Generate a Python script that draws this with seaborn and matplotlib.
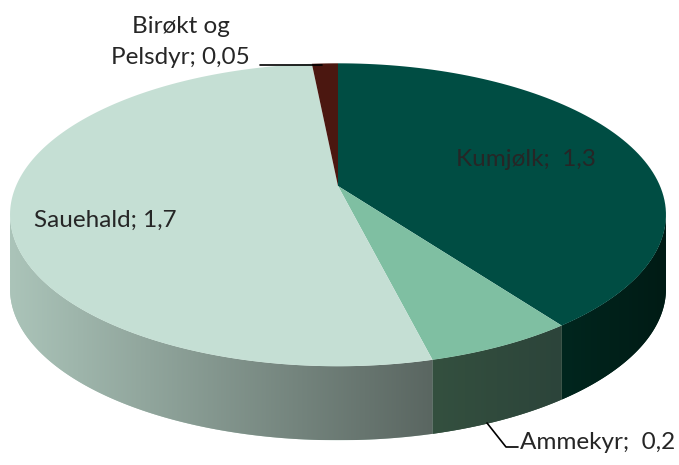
import numpy as np
import matplotlib
matplotlib.use("Agg")
import matplotlib.pyplot as plt
import matplotlib.transforms as mtransforms
from matplotlib.path import Path
from matplotlib.patches import Polygon
from matplotlib.colors import LinearSegmentedColormap
import seaborn as sns

# data
sectors = ["Kumjølk", "Ammekyr", "Sauehald", "Birøkt og\nPelsdyr"]
values = [1.3, 0.2, 1.7, 0.05]
value_labels = ["1,3", "0,2", "1,7", "0,05"]

top_colors = ["#004d43", "#7fbfa2", "#c5dfd4", "#4b1710"]
# side colour of each slice, left -> right
side_colors = [("#00261e", "#001b15"), ("#34503f", "#2c443a"),
               ("#abc4b9", "#5a6661"), ("#3a120e", "#3a120e")]

# pie geometry in output pixels
CX, CY = 338, 186
RX, RY = 322, 146
PERSP = 0.19
DEPTH = 74


class TiltTransform(mtransforms.Transform):
    """Project the flat unit pie onto a tilted disc seen in perspective."""
    input_dims = output_dims = 2
    is_separable = False

    def transform_non_affine(self, values):
        xy = np.asarray(values, dtype=float).reshape(-1, 2)
        w = 1 + PERSP * xy[:, 1]
        return np.column_stack([CX + RX * xy[:, 0] / w, CY - RY * xy[:, 1] / w])

    def transform_path_non_affine(self, path):
        pts = []
        for seg, code in path.iter_bezier():
            if code == Path.MOVETO:
                pts.append(seg.control_points)
            else:
                pts.append(seg(np.linspace(0, 1, 24)[1:]))
        pts = np.vstack(pts)
        return Path(self.transform_non_affine(pts), closed=True)


sns.set_theme(style="white")
plt.rcParams['font.family'] = ['Lato', 'DejaVu Sans']

fig = plt.figure(figsize=(6.79, 4.65), dpi=100)
ax = fig.add_axes([0, 0, 1, 1])

wedges, _ = ax.pie(values, colors=top_colors, startangle=90, counterclock=False,
                   wedgeprops=dict(linewidth=0, antialiased=True))
tilt = TiltTransform()
for w in wedges:
    w.set_transform(tilt + ax.transData)
    w.set_zorder(3)

# side of the disc, only the part facing the viewer
edge = np.degrees(np.arcsin(PERSP))
front = (-180 + edge, -edge)
for w, (c0, c1) in zip(wedges, side_colors):
    for k in (-360, 0, 360):
        lo = max(w.theta1 + k, front[0])
        hi = min(w.theta2 + k, front[1])
        if lo >= hi:
            continue
        ang = np.radians(np.linspace(lo, hi, 120))
        top = tilt.transform(np.column_stack([np.cos(ang), np.sin(ang)]))
        bottom = top + [0, DEPTH]
        poly = Polygon(np.vstack([top, bottom[::-1]]), closed=True,
                       facecolor=c0, edgecolor='none', zorder=1)
        ax.add_patch(poly)
        cmap = LinearSegmentedColormap.from_list('side', [c0, c1])
        im = ax.imshow(np.linspace(0, 1, 256)[None, :], cmap=cmap, aspect='auto',
                       extent=(top[:, 0].min(), top[:, 0].max(),
                               bottom[:, 1].max(), top[:, 1].min()),
                       interpolation='bilinear', zorder=2)
        im.set_clip_path(poly)

# labels
fs = 17.5
ax.text(526, 166, f"{sectors[0]};  {value_labels[0]}", ha='center', va='baseline', fontsize=fs)
ax.text(105, 227, f"{sectors[2]}; {value_labels[2]}", ha='center', va='baseline', fontsize=fs)
first, second = sectors[3].split("\n")
ax.text(181, 33, first, ha='center', va='baseline', fontsize=fs)
ax.text(180, 64, f"{second}; {value_labels[3]}", ha='center', va='baseline', fontsize=fs)
ax.plot([260, 322], [65, 65], color='black', lw=1.2, zorder=4)
ax.text(520, 449, f"{sectors[1]};  {value_labels[1]}", ha='left', va='baseline', fontsize=fs)
ax.plot([487, 506, 518], [423, 447, 447], color='black', lw=1.2, zorder=4)

ax.set_xlim(0, 679)
ax.set_ylim(465, 0)
ax.set_aspect('auto')
ax.axis('off')

fig.savefig('out.png', dpi=100)
